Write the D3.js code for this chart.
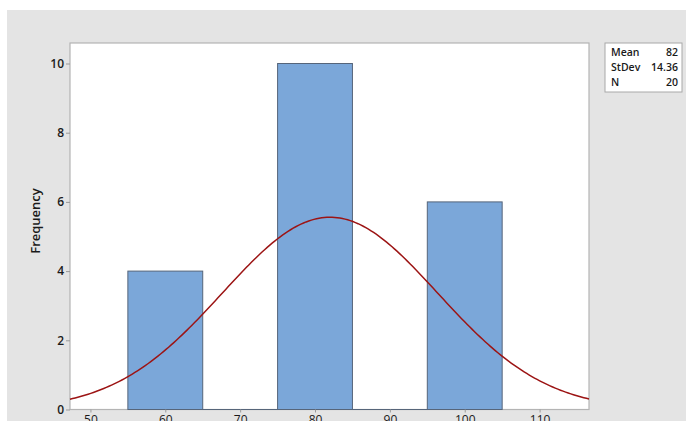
<!DOCTYPE html>
<html><head><meta charset="utf-8">
<script src="https://cdn.jsdelivr.net/npm/d3@7"></script>
<style>
html,body{margin:0;padding:0;background:#fff;}
svg{display:block;font-family:"Open Sans","Noto Sans",sans-serif;}
</style></head>
<body><svg id="c" width="686" height="421"></svg>
<script>
// Histogram bins (lower edge, upper edge, count)
const binLo = [55, 65, 75, 85, 95];
const binHi = [65, 75, 85, 95, 105];
const counts = [4, 0, 10, 0, 6];
const xTicks = [50, 60, 70, 80, 90, 100, 110];
const yTicks = [0, 2, 4, 6, 8, 10];
const statLabels = ["Mean", "StDev", "N"];
const statValues = ["82", "14.36", "20"];
const fitMean = [82];
const fitSd = [14.36];
const fitN = [20];

const svg = d3.select("#c");
svg.append("rect").attr("x", 7).attr("y", 10).attr("width", 679).attr("height", 411).attr("fill", "#e4e4e4");

const L = 70, R = 589, T = 43, B = 409.5;
const x = d3.scaleLinear().domain([47.27, 116.6]).range([L, R]);
const y = d3.scaleLinear().domain([0, 10]).range([B, 63.5]);

svg.append("rect").attr("x", L).attr("y", T).attr("width", R - L).attr("height", B - T)
  .attr("fill", "#fff").attr("stroke", "#b4b4b4").attr("stroke-width", 1.2);

const bins = counts.map((c, i) => ({lo: binLo[i], hi: binHi[i], c}));
svg.append("g").selectAll("rect").data(bins).join("rect")
  .attr("x", d => x(d.lo)).attr("width", d => x(d.hi) - x(d.lo))
  .attr("y", d => y(d.c)).attr("height", d => Math.max(y(0) - y(d.c), 0.01))
  .attr("fill", "#7ba7d9").attr("stroke", "#56657a").attr("stroke-width", 1);

// fitted normal curve scaled to counts
const bw = binHi[0] - binLo[0];
const dens = v => fitN[0] * bw / (fitSd[0] * Math.sqrt(2 * Math.PI)) * Math.exp(-0.5 * Math.pow((v - fitMean[0]) / fitSd[0], 2));
const xs = d3.range(0, 201).map(i => x.domain()[0] + (x.domain()[1] - x.domain()[0]) * i / 200);
svg.append("path").datum(xs)
  .attr("d", d3.line().x(v => x(v)).y(v => y(dens(v))))
  .attr("fill", "none").attr("stroke", "#9c1414").attr("stroke-width", 1.5);

// axes
const ax = svg.append("g").attr("transform", `translate(0,${B})`)
  .call(d3.axisBottom(x).tickValues(xTicks).tickSize(3).tickPadding(3));
ax.select(".domain").remove();
ax.selectAll("line").attr("stroke", "#9a9a9a");
ax.selectAll("text").attr("font-size", 12).attr("fill", "#1a1a1a").attr("font-family", "'Open Sans','Noto Sans',sans-serif");

const ay = svg.append("g").attr("transform", `translate(${L},0)`)
  .call(d3.axisLeft(y).tickValues(yTicks).tickSize(4).tickPadding(2));
ay.select(".domain").remove();
ay.selectAll("line").attr("stroke", "#9a9a9a");
ay.selectAll("text").attr("font-size", 12).attr("fill", "#1a1a1a").attr("font-weight", 600).attr("font-family", "'Open Sans','Noto Sans',sans-serif");

svg.append("text").attr("transform", "translate(40,221) rotate(-90)")
  .attr("text-anchor", "middle").attr("font-size", 13).attr("font-weight", 600).attr("fill", "#1a1a1a")
  .text("Frequency");

// stats box
const g = svg.append("g");
g.append("rect").attr("x", 605).attr("y", 43).attr("width", 77).attr("height", 49)
  .attr("fill", "#fff").attr("stroke", "#a8a8a8");
statLabels.forEach((s, i) => {
  g.append("text").attr("x", 611).attr("y", 56 + i * 15).attr("font-size", 10.5).attr("font-weight", 600).attr("fill", "#1a1a1a").text(s);
  g.append("text").attr("x", 678).attr("y", 56 + i * 15).attr("text-anchor", "end").attr("font-size", 10.5).attr("font-weight", 600).attr("fill", "#1a1a1a").text(statValues[i]);
});
</script></body></html>
